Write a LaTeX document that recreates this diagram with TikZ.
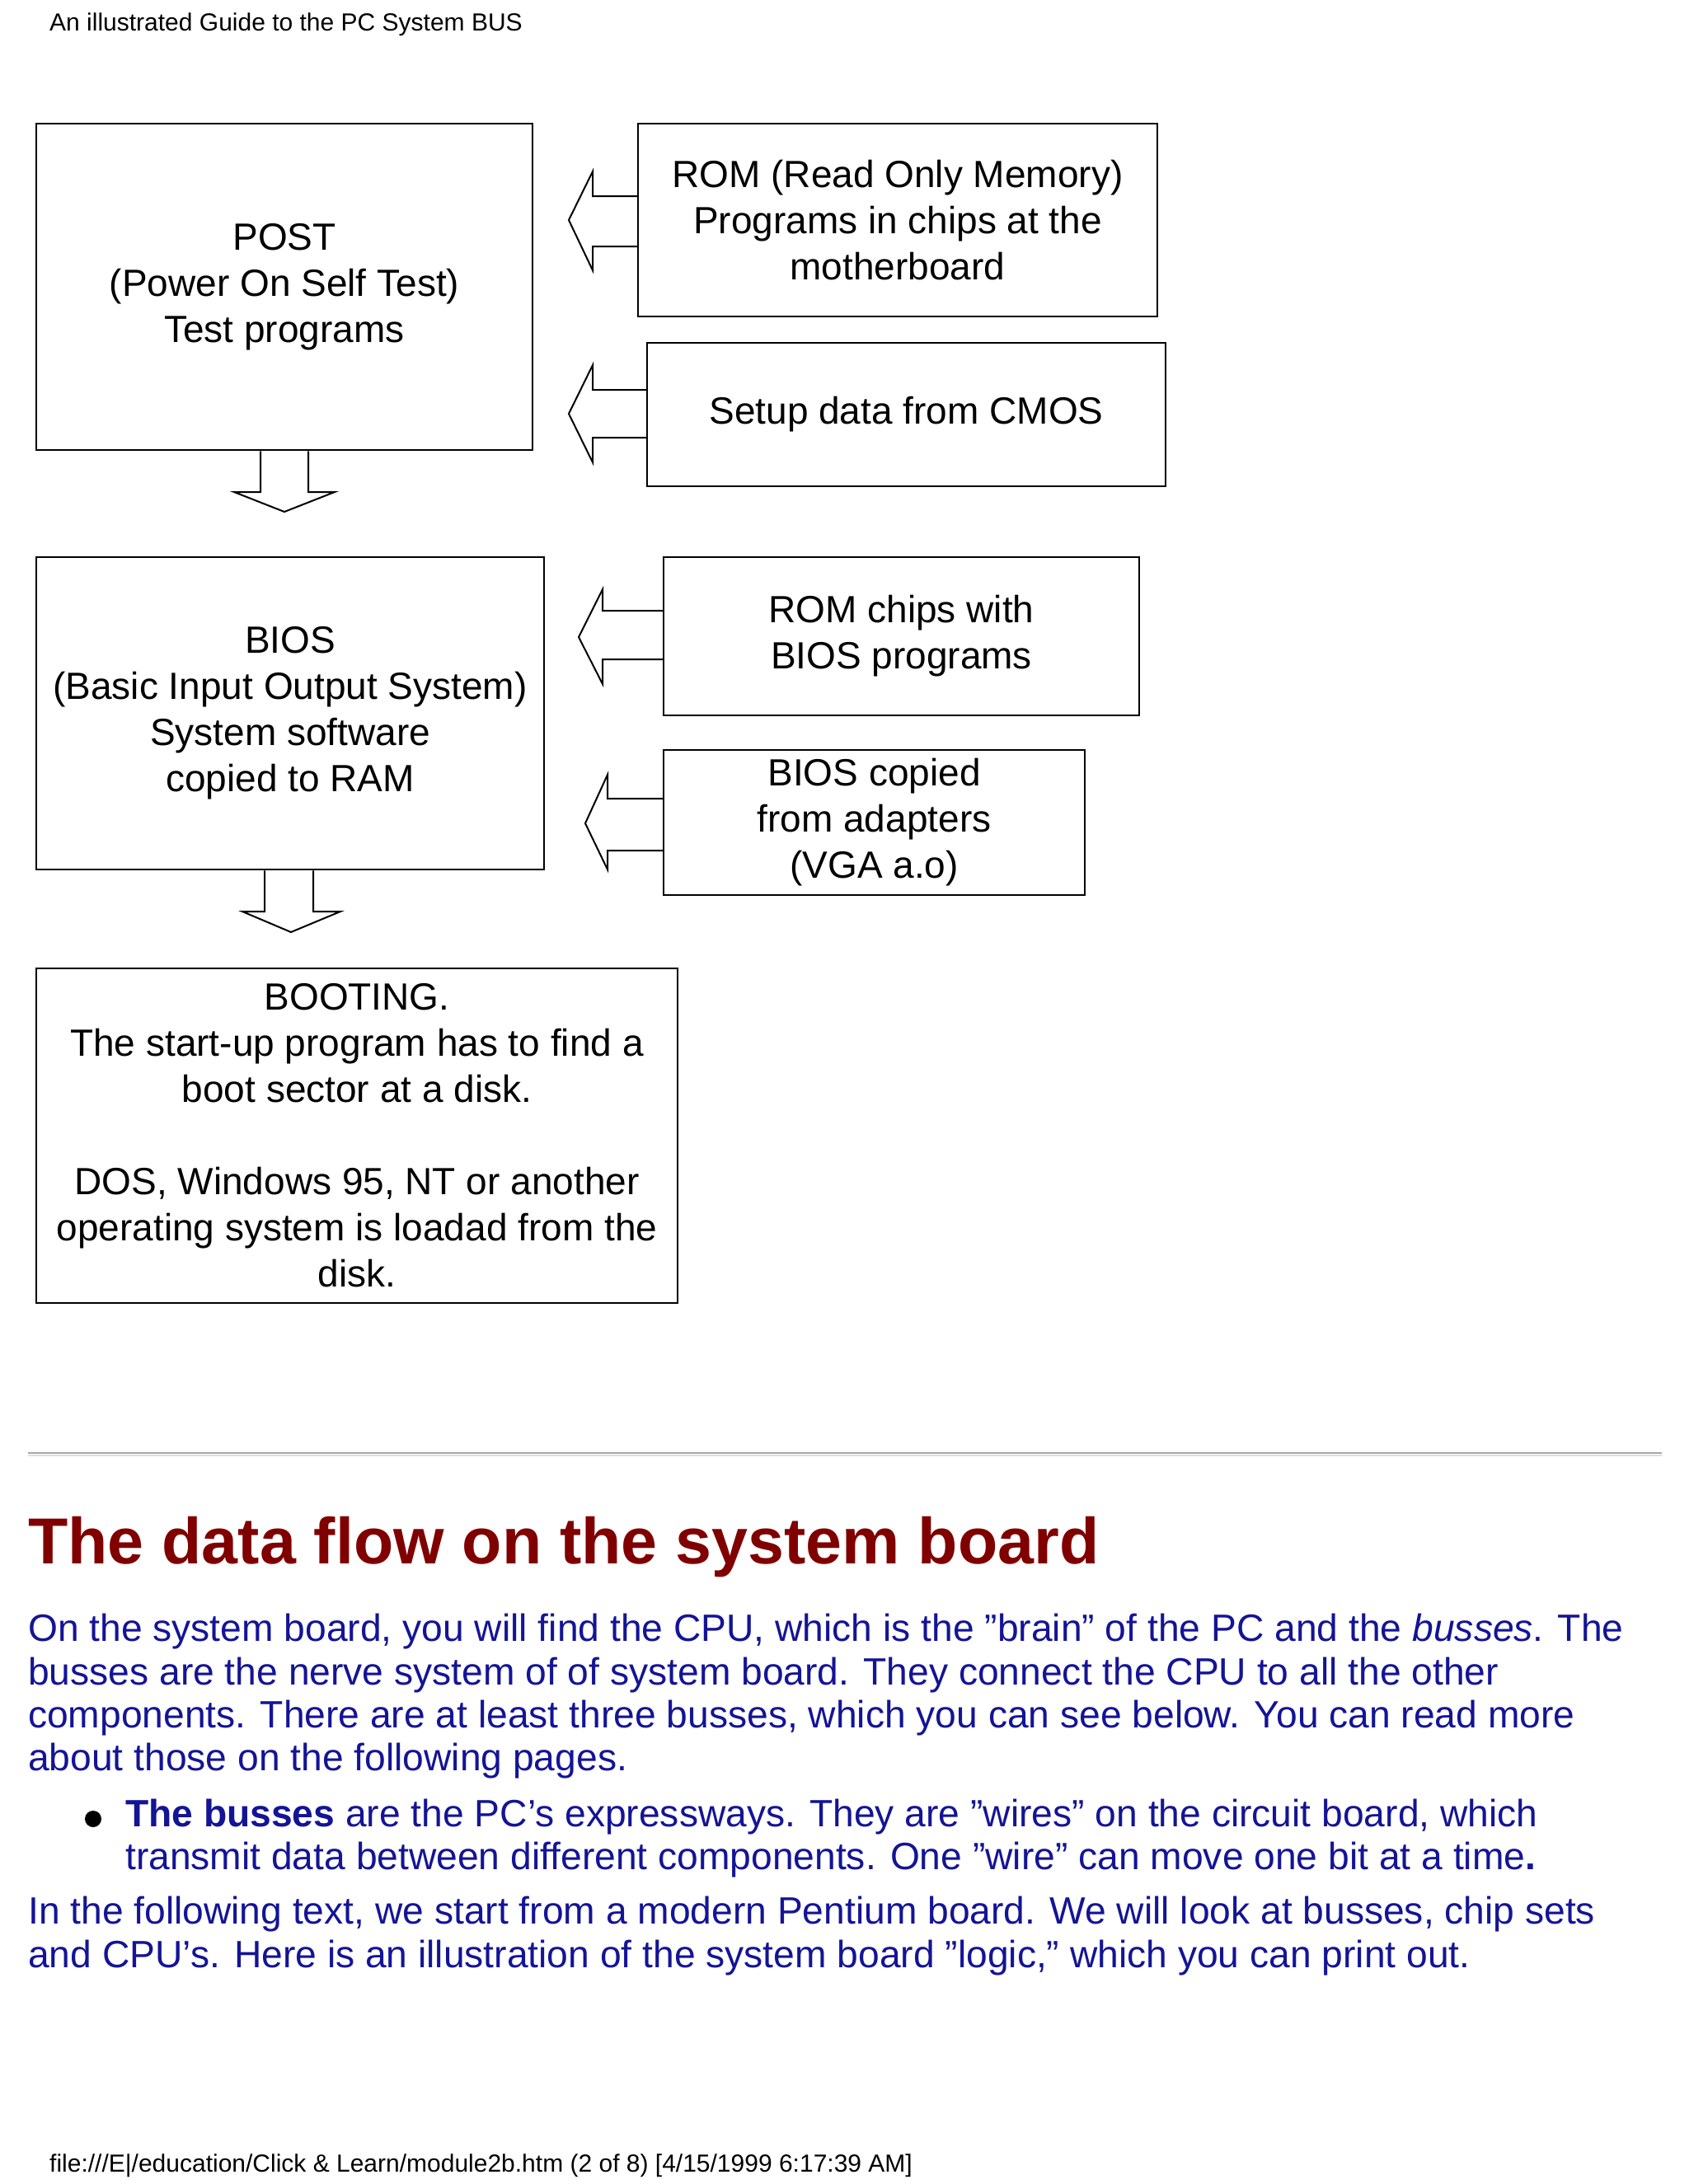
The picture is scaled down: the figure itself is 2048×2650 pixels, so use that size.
\documentclass[tikz,border=0pt]{standalone}
\usepackage{fontspec}
\setmainfont{Liberation Sans}
\definecolor{navytxt}{RGB}{20,20,150}
\definecolor{headred}{RGB}{128,0,0}
\newcommand{\qq}{\symbol{34}}
\newcommand{\ap}{\symbol{39}}
\begin{document}
\begin{tikzpicture}[x=1pt,y=-1pt,
  box/.style={draw,line width=2.5pt,inner sep=0pt,align=center,font=\fontsize{46}{56}\selectfont},
  arr/.style={draw,line width=2pt,line join=miter},
  body/.style={anchor=west,inner sep=0pt,text=navytxt,font=\fontsize{46.2}{52}\selectfont}]
\useasboundingbox[fill=white] (0,0) rectangle (2048,2650);
\node[anchor=west,inner sep=0pt,font=\fontsize{30}{34}\selectfont] (hdr) at (60,30) {An illustrated Guide to the PC System BUS};
% boxes
\node[box,minimum width=602pt,minimum height=396pt] (post) at (345,348) {POST\\(Power On Self Test)\\Test programs};
\node[box,minimum width=630pt,minimum height=234pt] (rom) at (1089,267) {ROM (Read Only Memory)\\Programs in chips at the\\motherboard};
\node[box,minimum width=629pt,minimum height=174pt] (cmos) at (1099.5,503) {Setup data from CMOS};
\node[box,minimum width=616pt,minimum height=379pt] (bios) at (352,865.5) {BIOS\\(Basic Input Output System)\\System software\\copied to RAM};
\node[box,minimum width=577pt,minimum height=192pt] (romc) at (1093.5,772) {ROM chips with\\BIOS programs};
\node[box,minimum width=511pt,minimum height=176pt] (bcop) at (1060.5,998) {BIOS copied\\from adapters\\(VGA a.o)};
\node[box,minimum width=778pt,minimum height=406pt] (boot) at (433,1378) {BOOTING.\\The start-up program has to find a\\boot sector at a disk.\\[56pt]DOS, Windows 95, NT or another\\operating system is loadad from the\\disk.};
% left arrows
\draw[arr] (rom.west |- 0,238) -- (719,238) -- (719,208) -- (690,267) -- (719,328) -- (719,299) -- (rom.west |- 0,299);
\draw[arr] (cmos.west |- 0,473) -- (719,473) -- (719,443) -- (690,502) -- (719,561) -- (719,531) -- (cmos.west |- 0,531);
\draw[arr] (romc.west |- 0,741) -- (731,741) -- (731,715) -- (702,773) -- (731,830) -- (731,800) -- (romc.west |- 0,800);
\draw[arr] (bcop.west |- 0,969) -- (737,969) -- (737,940) -- (710,999) -- (737,1055) -- (737,1032) -- (bcop.west |- 0,1032);
% down arrows
\draw[arr] (post.south -| 316,0) -- (316,597) -- (284,597) -- (345,621) -- (406,597) -- (374,597) -- (post.south -| 374,0);
\draw[arr] (bios.south -| 321,0) -- (321,1106) -- (294,1106) -- (353,1131) -- (413,1106) -- (380,1106) -- (bios.south -| 380,0);
% separator
\draw[line width=2pt,color=gray!70] (34,1763) -- (2016,1763);
\draw[line width=1.5pt,color=gray!25] (34,1766) -- (2016,1766);
\node[anchor=west,inner sep=0pt,text=headred,font=\bfseries\fontsize{79}{90}\selectfont] (head) at (34,1877) {The data flow on the system board};
\node[body] (l1) at (34,1980) {On the system board, you will find the CPU, which is the \qq brain\qq{} of the PC and the \textit{busses}. The};
\node[body] (l2) at (34,2033) {busses are the nerve system of of system board. They connect the CPU to all the other};
\node[body] (l3) at (34,2085) {components. There are at least three busses, which you can see below. You can read more};
\node[body] (l4) at (34,2137) {about those on the following pages.};
\fill (113,2207) circle (10);
\node[body] (l5) at (152,2205) {\textbf{The busses} are the PC\ap s expressways. They are \qq wires\qq{} on the circuit board, which};
\node[body] (l6) at (152,2257) {transmit data between different components. One \qq wire\qq{} can move one bit at a time\textbf{.}};
\node[body] (l7) at (34,2323) {In the following text, we start from a modern Pentium board. We will look at busses, chip sets};
\node[body] (l8) at (34,2376) {and CPU\ap s. Here is an illustration of the system board \qq logic,\qq{} which you can print out.};
\node[anchor=west,inner sep=0pt,font=\fontsize{30}{34}\selectfont] (ftr) at (60,2628) {file:///E|/education/Click \& Learn/module2b.htm (2 of 8) [4/15/1999 6:17:39 AM]};
\end{tikzpicture}
\end{document}
